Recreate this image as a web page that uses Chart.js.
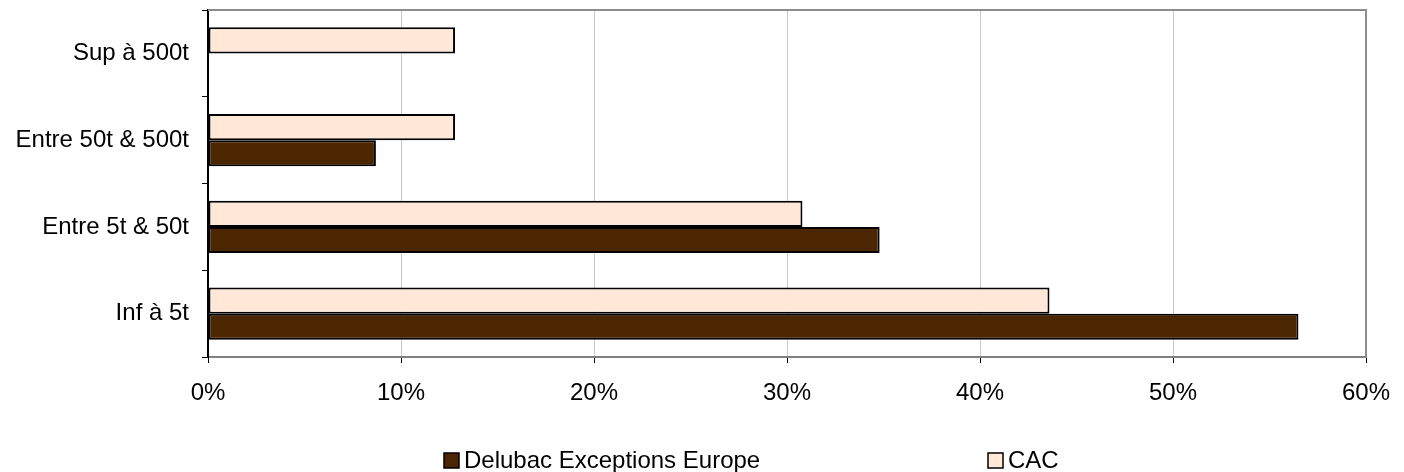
<!DOCTYPE html>
<html>
<head>
<meta charset="utf-8">
<script src="https://cdn.jsdelivr.net/npm/chart.js@4"></script>
<style>
  body { margin: 0; background: #fff; }
  canvas { display: block; }
</style>
</head>
<body>
<canvas id="chart" width="1404" height="472"></canvas>
<script>
// categories listed top to bottom, as they appear on the chart
const categories = ["Sup à 500t", "Entre 50t & 500t", "Entre 5t & 50t", "Inf à 5t"];
const cacValues = [12.8, 12.8, 30.8, 43.6];
const delubacValues = [0, 8.7, 34.8, 56.5];
const xTickLabels = ["0%", "10%", "20%", "30%", "40%", "50%", "60%"];

const FONT = "'Liberation Sans', Arial, sans-serif";

// frame round the plot area (top and right sides, grey)
const plotFrame = {
  id: "plotFrame",
  beforeDatasetsDraw(chart) {
    const { ctx, chartArea: a } = chart;
    ctx.save();
    ctx.strokeStyle = "#8c8c8c";
    ctx.lineWidth = 2;
    ctx.beginPath();
    ctx.moveTo(a.left, a.top);
    ctx.lineTo(a.right, a.top);
    ctx.lineTo(a.right, a.bottom);
    ctx.stroke();
    ctx.restore();
  }
};

// legend at the bottom, Delubac first then CAC
const bottomLegend = {
  id: "bottomLegend",
  afterDraw(chart) {
    const ctx = chart.ctx;
    const items = [
      { ds: chart.data.datasets[1], x: 444 },
      { ds: chart.data.datasets[0], x: 988 }
    ];
    ctx.save();
    ctx.font = "24px " + FONT;
    ctx.textBaseline = "middle";
    items.forEach((it) => {
      ctx.fillStyle = it.ds.backgroundColor;
      ctx.fillRect(it.x, 453, 15, 15);
      ctx.strokeStyle = "#000";
      ctx.lineWidth = 1.5;
      ctx.strokeRect(it.x, 453, 15, 15);
      ctx.fillStyle = "#000";
      ctx.fillText(it.ds.label, it.x + 20, 461);
    });
    ctx.restore();
  }
};

new Chart(document.getElementById("chart"), {
  type: "bar",
  data: {
    labels: categories,
    datasets: [
      {
        label: "CAC",
        data: cacValues,
        backgroundColor: "#ffe8d8",
        borderColor: "#000",
        borderWidth: 2,
        borderSkipped: false
      },
      {
        label: "Delubac Exceptions Europe",
        data: delubacValues,
        backgroundColor: "#4c2600",
        borderColor: "#000",
        borderWidth: 2,
        borderSkipped: false
      }
    ]
  },
  options: {
    indexAxis: "y",
    responsive: false,
    animation: false,
    devicePixelRatio: 1,
    categoryPercentage: 0.6,
    barPercentage: 1.0,
    layout: { padding: { top: 10, right: 38, left: 0, bottom: 0 } },
    plugins: {
      legend: { display: false },
      tooltip: { enabled: false }
    },
    scales: {
      x: {
        min: 0,
        max: 60,
        ticks: {
          stepSize: 10,
          color: "#000",
          font: { size: 24, family: FONT },
          padding: 16,
          callback: (v, i) => xTickLabels[i]
        },
        grid: { color: "#c8c8c8", lineWidth: 1, tickColor: "#000", tickLength: 6 },
        border: { color: "#808080", width: 2 },
        afterFit(scale) {
          scale.height = 115;
          scale.paddingLeft = 0;
          scale.paddingRight = 0;
        }
      },
      y: {
        ticks: {
          color: "#000",
          font: { size: 24, family: FONT },
          padding: 13
        },
        grid: { drawOnChartArea: false, offset: true, tickColor: "#000", tickLength: 6 },
        border: { color: "#000", width: 2 },
        afterFit(scale) {
          scale.width = 208;
          scale.paddingTop = 0;
          scale.paddingBottom = 0;
        }
      }
    }
  },
  plugins: [plotFrame, bottomLegend]
});
</script>
</body>
</html>
